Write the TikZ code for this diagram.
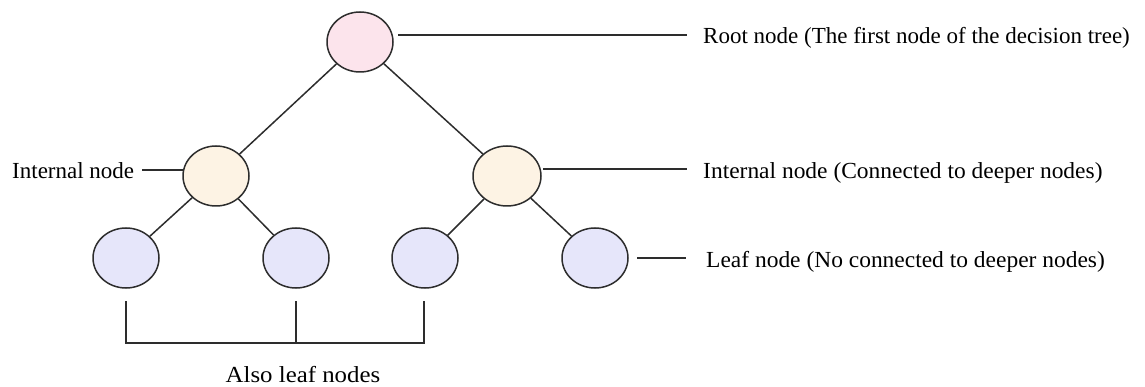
\documentclass[tikz,border=0pt]{standalone}
\usepackage{fontspec}
\usepackage{graphicx}
\setmainfont{Liberation Serif}
\usetikzlibrary{shapes.geometric}
\definecolor{rootfill}{RGB}{252,228,236}
\definecolor{intfill}{RGB}{253,243,228}
\definecolor{leaffill}{RGB}{230,230,250}
\definecolor{linecol}{RGB}{45,45,45}
\tikzset{
  tnode/.style={ellipse, draw=linecol, line width=1.5pt, minimum width=66pt, minimum height=60pt, inner sep=0pt},
  rootnode/.style={tnode, fill=rootfill},
  intnode/.style={tnode, fill=intfill},
  leafnode/.style={tnode, fill=leaffill},
  edge/.style={draw=linecol, line width=1.5pt},
  lbl/.style={font=\fontsize{23}{27}\selectfont, inner sep=0pt, text=black}
}
\begin{document}
\begin{tikzpicture}[x=1pt,y=-1pt]
\useasboundingbox (0,0) rectangle (1145,387);
\node[rootnode] (root) at (360,42) {};
\node[intnode] (i1) at (216,176) {};
\node[intnode, minimum width=68pt] (i2) at (507,176) {};
\node[leafnode] (l1) at (126,258) {};
\node[leafnode] (l2) at (296,258) {};
\node[leafnode] (l3) at (425,258) {};
\node[leafnode] (l4) at (595,258) {};
\draw[edge] (root) -- (i1);
\draw[edge] (root) -- (i2);
\draw[edge] (i1) -- (l1);
\draw[edge] (i1) -- (l2);
\draw[edge] (i2) -- (l3);
\draw[edge] (i2) -- (l4);
% labels
\node[lbl, anchor=base west] (troot) at (703,44) {Root node (The first node of the decision tree)};
\node[lbl, anchor=base west] (ti2) at (703,179) {\scalebox{1.02}[1]{Internal node (Connected to deeper nodes)}};
\node[lbl, anchor=base west] (tl4) at (706,267) {\scalebox{1.02}[1]{Leaf node (No connected to deeper nodes)}};
\node[lbl, anchor=base west] (ti1) at (12,179) {Internal node};
\coordinate (r1s) at (398,35);
\coordinate (r1) at (687,35);
\coordinate (r2s) at (543,169);
\coordinate (r2) at (687,169);
\coordinate (r3s) at (637,258);
\coordinate (r3) at (686,258);
\coordinate (li1) at (142,170);
\coordinate (li1e) at (183,170);
\draw[edge] (r1s) -- (r1);
\draw[edge] (r2s) -- (r2);
\draw[edge] (r3s) -- (r3);
\draw[edge] (li1) -- (li1e);
% bracket
\coordinate (b1) at (126,301);
\coordinate (b2) at (296,301);
\coordinate (b3) at (424,301);
\draw[edge] (b1) -- (126,343) -- (424,343) -- (b3);
\draw[edge] (b2) -- (296,343);
\node[lbl, anchor=base] (also) at (303,382) {\scalebox{1.08}[1]{Also leaf nodes}};
\end{tikzpicture}
\end{document}
